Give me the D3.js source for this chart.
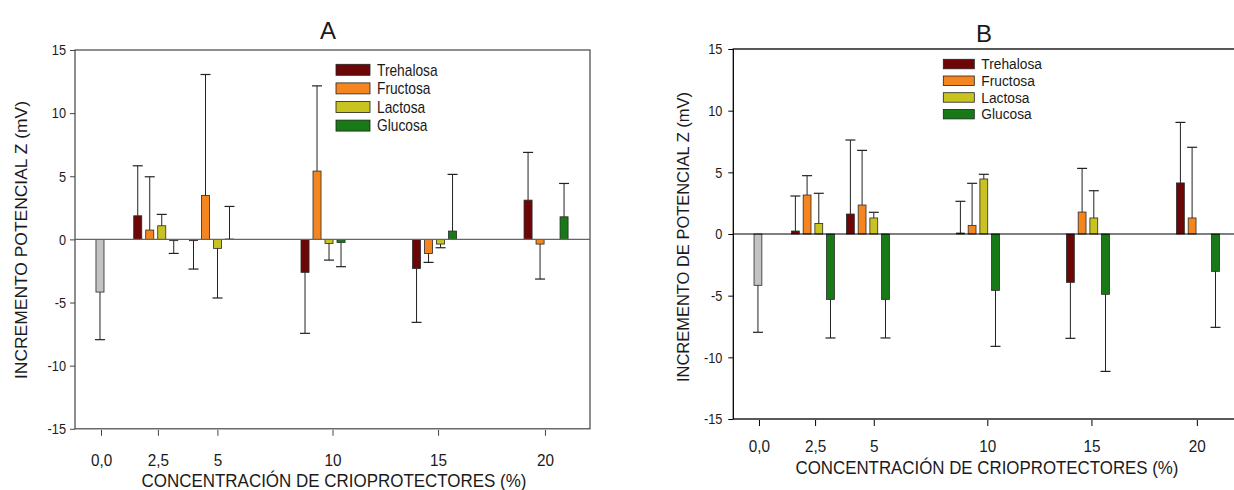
<!DOCTYPE html>
<meta charset="utf-8">
<head>
<title>Incremento potencial Z</title>
<script src="https://cdnjs.cloudflare.com/ajax/libs/d3/7.8.5/d3.min.js"></script>
<style>
  body { margin: 0; background: white; }
  text { font-family: "Liberation Sans", Arial, sans-serif; fill: #1a1a1a; }
</style>
</head>
<body>
<div id="chart"></div>
<script>
  // shared categories / ticks
  var concentrations = [2.5, 5, 10, 15, 20];
  var xTicks = [0, 2.5, 5, 10, 15, 20];
  var xTickLabels = ["0,0", "2,5", "5", "10", "15", "20"];
  var yTicks = [-15, -10, -5, 0, 5, 10, 15];
  var series = ["Trehalosa", "Fructosa", "Lactosa", "Glucosa"];
  var colors = ["#6d0707", "#f5861f", "#c9c322", "#177a17"];
  var controlColor = "#c3c3c3";

  // panel A (mean, sd)
  var controlA = -4.17, controlErrA = 3.77;
  var trehalosaA = [1.87, -0.1, -2.61, -2.30, 3.11];
  var trehalosaErrA = [3.96, 2.25, 4.83, 4.27, 3.78];
  var fructosaA = [0.74, 3.48, 5.41, -1.11, -0.37];
  var fructosaErrA = [4.22, 9.58, 6.75, 0.71, 2.77];
  var lactosaA = [1.08, -0.71, -0.32, -0.37, null];
  var lactosaErrA = [0.90, 3.93, 1.32, 0.29, null];
  var glucosaA = [-0.1, 0.03, -0.24, 0.66, 1.79];
  var glucosaErrA = [1.01, 2.58, 1.92, 4.49, 2.64];

  // panel B
  var controlB = -4.16, controlErrB = 3.81;
  var trehalosaB = [0.24, 1.62, 0.08, -3.92, 4.14];
  var trehalosaErrB = [2.84, 6.00, 2.57, 4.54, 4.91];
  var fructosaB = [3.16, 2.35, 0.70, 1.78, 1.30];
  var fructosaErrB = [1.57, 4.43, 3.41, 3.54, 5.73];
  var lactosaB = [0.86, 1.30, 4.46, 1.30, null];
  var lactosaErrB = [2.44, 0.46, 0.38, 2.21, null];
  var glucosaB = [-5.30, -5.30, -4.57, -4.89, -3.03];
  var glucosaErrB = [3.13, 3.13, 4.54, 6.25, 4.54];

  var WIDTH = 1234, HEIGHT = 490;
  var svg = d3.select("#chart").append("svg")
    .attr("width", WIDTH)
    .attr("height", HEIGHT);

  function drawPanel(p) {
    var W = p.width, H = p.height;
    var g = svg.append("g").attr("transform", "translate(" + p.left + "," + p.top + ")");

    var x = d3.scaleLinear().domain([-1.12, 21.97]).range([0, W]);
    // tick marks in the original sit a little off the bar groups
    var xTick = d3.scaleLinear().domain(xTicks).range(p.tickFrac.map(function(f) { return f * W; }));
    var y = d3.scaleLinear().domain([-15, 15]).range([H, 0]);
    var inner = d3.scaleBand().domain(series).range([-p.group / 2, p.group / 2])
      .paddingInner(0.33).paddingOuter(0.165);
    var bw = inner.bandwidth();

    // frame
    g.append("rect")
      .attr("x", 0).attr("y", 0).attr("width", W).attr("height", H)
      .attr("fill", "none").attr("stroke", p.frame).attr("stroke-width", p.frameW);

    // bars: control + each sugar
    var rows = [{ s: "control", c: 0, v: p.control, e: p.controlErr, cx: x(0), color: controlColor }];
    series.forEach(function(s, si) {
      concentrations.forEach(function(c, ci) {
        var v = p.values[si][ci];
        if (v === null) return;
        rows.push({ s: s, c: c, v: v, e: p.errors[si][ci], cx: x(c) + inner(s) + bw / 2, color: colors[si] });
      });
    });

    g.selectAll(".bar").data(rows).enter().append("rect")
      .attr("class", "bar")
      .attr("x", function(d) { return d.cx - bw / 2; })
      .attr("y", function(d) { return y(Math.max(0, d.v)); })
      .attr("width", bw)
      .attr("height", function(d) { return Math.abs(y(d.v) - y(0)); })
      .attr("fill", function(d) { return d.color; })
      .attr("stroke", "#2a2a2a")
      .attr("stroke-width", 0.8);

    // zero line
    g.append("line")
      .attr("x1", 0).attr("x2", W).attr("y1", y(0)).attr("y2", y(0))
      .attr("stroke", p.zero).attr("stroke-width", 1.2);

    // one-sided error bars
    var errEnd = function(d) { return d.v >= 0 ? d.v + d.e : d.v - d.e; };
    g.selectAll(".err").data(rows).enter().append("line")
      .attr("x1", function(d) { return d.cx; })
      .attr("x2", function(d) { return d.cx; })
      .attr("y1", function(d) { return y(d.v); })
      .attr("y2", function(d) { return y(errEnd(d)); })
      .attr("stroke", "#222").attr("stroke-width", 1);
    g.selectAll(".cap").data(rows).enter().append("line")
      .attr("x1", function(d) { return d.cx - 5; })
      .attr("x2", function(d) { return d.cx + 5; })
      .attr("y1", function(d) { return y(errEnd(d)); })
      .attr("y2", function(d) { return y(errEnd(d)); })
      .attr("stroke", "#222").attr("stroke-width", 1.2);

    // axes (labels squeezed a bit, the original font is a narrow one)
    var sq = 0.85;
    var ya = g.append("g")
      .call(d3.axisLeft(y).tickValues(yTicks).tickSize(5)
        .tickFormat(function(d) { return String(d); }));
    ya.select(".domain").remove();
    ya.selectAll("line").attr("stroke", p.frame);
    ya.selectAll("text")
      .attr("x", -(5 + p.yPad) / sq)
      .attr("transform", "scale(" + sq + ",1)")
      .style("font-size", "15px").attr("fill", "#222");

    var xa = g.append("g")
      .attr("transform", "translate(0," + (H + 1) + ")")
      .call(d3.axisBottom(xTick).tickValues(xTicks)
        .tickFormat(function(d, i) { return xTickLabels[i]; })
        .tickSize(6).tickSizeOuter(0).tickPadding(p.xPad));
    xa.select(".domain").remove();
    xa.selectAll("line").attr("stroke", p.frame);
    xa.selectAll("text")
      .attr("transform", "scale(0.9,1)")
      .style("font-size", "17px").attr("fill", "#222");

    // titles
    svg.append("text")
      .attr("x", p.titleX).attr("y", p.titleY)
      .attr("text-anchor", "middle")
      .style("font-size", "24px")
      .text(p.title);

    svg.append("text")
      .attr("transform", "translate(" + p.yLabelX + "," + p.yLabelY + ") rotate(-90)")
      .attr("text-anchor", "middle")
      .attr("dy", "0.36em")
      .attr("textLength", p.yLabelLen)
      .attr("lengthAdjust", "spacingAndGlyphs")
      .style("font-size", "17px")
      .text(p.yLabel);

    svg.append("text")
      .attr("x", p.xLabelX).attr("y", p.xLabelY)
      .attr("text-anchor", "middle")
      .attr("dy", "0.36em")
      .attr("textLength", p.xLabelLen)
      .attr("lengthAdjust", "spacingAndGlyphs")
      .style("font-size", "18px")
      .text("CONCENTRACIÓN DE CRIOPROTECTORES (%)");

    // legend
    var lg = g.append("g").attr("transform", "translate(" + p.legX + "," + p.legY + ")");
    series.forEach(function(s, i) {
      lg.append("rect")
        .attr("x", 0).attr("y", i * p.legStep)
        .attr("width", p.swW).attr("height", p.swH)
        .attr("fill", colors[i]).attr("stroke", "#222").attr("stroke-width", 0.8);
      lg.append("text")
        .attr("transform", "translate(" + (p.swW + 7) + "," + (i * p.legStep + p.swH / 2) + ") scale(" + p.legSq + ",1)")
        .attr("dy", "0.36em")
        .style("font-size", p.legFont)
        .text(s);
    });
  }

  drawPanel({
    left: 75, top: 50, width: 515, height: 378.8, group: 48,
    tickFrac: [0.0505, 0.161, 0.2765, 0.50, 0.705, 0.9125],
    control: controlA, controlErr: controlErrA,
    values: [trehalosaA, fructosaA, lactosaA, glucosaA],
    errors: [trehalosaErrA, fructosaErrA, lactosaErrA, glucosaErrA],
    frame: "#444", frameW: 1.2, zero: "#666",
    yPad: 4, xPad: 18,
    title: "A", titleX: 328, titleY: 39,
    yLabel: "INCREMENTO POTENCIAL Z (mV)", yLabelX: 21, yLabelY: 240, yLabelLen: 278,
    xLabelX: 334, xLabelY: 481, xLabelLen: 385,
    legX: 261, legY: 14.3, legStep: 18.6, swW: 34, swH: 11, legFont: "16px", legSq: 0.86
  });

  drawPanel({
    left: 733.3, top: 49, width: 508, height: 370, group: 46.8,
    tickFrac: [0.0505, 0.161, 0.2765, 0.50, 0.705, 0.9125],
    control: controlB, controlErr: controlErrB,
    values: [trehalosaB, fructosaB, lactosaB, glucosaB],
    errors: [trehalosaErrB, fructosaErrB, lactosaErrB, glucosaErrB],
    frame: "#000", frameW: 1.3, zero: "#000",
    yPad: 6, xPad: 14,
    title: "B", titleX: 984, titleY: 41.5,
    yLabel: "INCREMENTO DE POTENCIAL Z (mV)", yLabelX: 683, yLabelY: 237, yLabelLen: 290,
    xLabelX: 987, xLabelY: 468, xLabelLen: 383,
    legX: 210, legY: 10.3, legStep: 16.7, swW: 31, swH: 9.5, legFont: "14.5px", legSq: 0.95
  });
</script>
</body>
